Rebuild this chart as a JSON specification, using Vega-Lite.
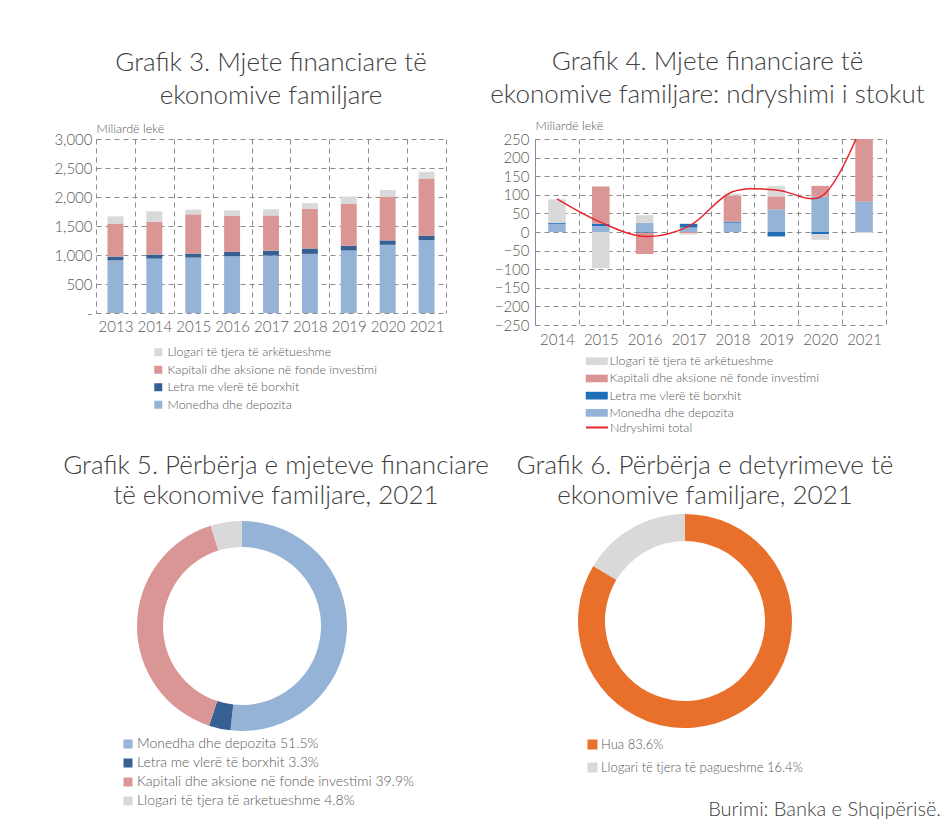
{
  "$schema": "https://vega.github.io/schema/vega-lite/v6.json",
  "autosize": {"type": "pad"},
  "padding": {"left": 53, "top": 49, "right": 0, "bottom": 0},
  "background": "white",
  "bounds": "flush",
  "spacing": 382,
  "resolve": {"scale": {"color": "independent", "stroke": "independent", "x": "independent", "y": "independent"}, "legend": {"color": "independent", "stroke": "independent"}},
  "title": {"text": "Burimi: Banka e Shqipërisë.", "orient": "bottom", "anchor": "end", "frame": "group", "offset": -8, "dx": 845, "fontSize": 20, "font": "Lato", "fontWeight": 300, "color": "#404040"},
  "config": {
    "font": "Lato",
    "view": {"stroke": null},
    "axis": {"labelFont": "Lato", "labelFontWeight": 300, "labelColor": "#595959", "titleFont": "Lato", "titleFontWeight": 300, "titleColor": "#595959", "gridColor": "#8c8c8c", "gridDash": [5, 4], "gridWidth": 1, "ticks": false, "domain": false, "labelOverlap": false},
    "legend": {"labelFont": "Lato", "labelFontWeight": 300, "labelColor": "#595959", "labelFontSize": 12.5, "padding": 0, "labelLimit": 500},
    "title": {"font": "Lato", "fontWeight": 300, "color": "#404040"}
  },
  "vconcat": [
    {
      "bounds": "flush",
      "spacing": 89,
      "resolve": {"scale": {"color": "independent", "stroke": "independent", "x": "independent", "y": "independent"}, "legend": {"color": "independent", "stroke": "independent"}},
      "hconcat": [
        {
          "width": 350,
          "height": 174,
          "title": {"text": ["Grafik 3. Mjete financiare të", "ekonomive familjare"], "frame": "group", "anchor": "middle", "offset": 13, "fontSize": 26, "lineHeight": 33},
          "data": {"values": [
            {"viti": "2013", "seria": "Monedha dhe depozita", "vlera": 909, "rend": 1},
            {"viti": "2013", "seria": "Letra me vlerë të borxhit", "vlera": 64, "rend": 2},
            {"viti": "2013", "seria": "Kapitali dhe aksione në fonde investimi", "vlera": 570, "rend": 3},
            {"viti": "2013", "seria": "Llogari të tjera të arkëtueshme", "vlera": 123, "rend": 4},
            {"viti": "2014", "seria": "Monedha dhe depozita", "vlera": 938, "rend": 1},
            {"viti": "2014", "seria": "Letra me vlerë të borxhit", "vlera": 70, "rend": 2},
            {"viti": "2014", "seria": "Kapitali dhe aksione në fonde investimi", "vlera": 565, "rend": 3},
            {"viti": "2014", "seria": "Llogari të tjera të arkëtueshme", "vlera": 180, "rend": 4},
            {"viti": "2015", "seria": "Monedha dhe depozita", "vlera": 955, "rend": 1},
            {"viti": "2015", "seria": "Letra me vlerë të borxhit", "vlera": 70, "rend": 2},
            {"viti": "2015", "seria": "Kapitali dhe aksione në fonde investimi", "vlera": 676, "rend": 3},
            {"viti": "2015", "seria": "Llogari të tjera të arkëtueshme", "vlera": 81, "rend": 4},
            {"viti": "2016", "seria": "Monedha dhe depozita", "vlera": 978, "rend": 1},
            {"viti": "2016", "seria": "Letra me vlerë të borxhit", "vlera": 76, "rend": 2},
            {"viti": "2016", "seria": "Kapitali dhe aksione në fonde investimi", "vlera": 618, "rend": 3},
            {"viti": "2016", "seria": "Llogari të tjera të arkëtueshme", "vlera": 99, "rend": 4},
            {"viti": "2017", "seria": "Monedha dhe depozita", "vlera": 990, "rend": 1},
            {"viti": "2017", "seria": "Letra me vlerë të borxhit", "vlera": 82, "rend": 2},
            {"viti": "2017", "seria": "Kapitali dhe aksione në fonde investimi", "vlera": 611, "rend": 3},
            {"viti": "2017", "seria": "Llogari të tjera të arkëtueshme", "vlera": 105, "rend": 4},
            {"viti": "2018", "seria": "Monedha dhe depozita", "vlera": 1019, "rend": 1},
            {"viti": "2018", "seria": "Letra me vlerë të borxhit", "vlera": 93, "rend": 2},
            {"viti": "2018", "seria": "Kapitali dhe aksione në fonde investimi", "vlera": 682, "rend": 3},
            {"viti": "2018", "seria": "Llogari të tjera të arkëtueshme", "vlera": 99, "rend": 4},
            {"viti": "2019", "seria": "Monedha dhe depozita", "vlera": 1077, "rend": 1},
            {"viti": "2019", "seria": "Letra me vlerë të borxhit", "vlera": 82, "rend": 2},
            {"viti": "2019", "seria": "Kapitali dhe aksione në fonde investimi", "vlera": 722, "rend": 3},
            {"viti": "2019", "seria": "Llogari të tjera të arkëtueshme", "vlera": 128, "rend": 4},
            {"viti": "2020", "seria": "Monedha dhe depozita", "vlera": 1176, "rend": 1},
            {"viti": "2020", "seria": "Letra me vlerë të borxhit", "vlera": 76, "rend": 2},
            {"viti": "2020", "seria": "Kapitali dhe aksione në fonde investimi", "vlera": 748, "rend": 3},
            {"viti": "2020", "seria": "Llogari të tjera të arkëtueshme", "vlera": 120, "rend": 4},
            {"viti": "2021", "seria": "Monedha dhe depozita", "vlera": 1258, "rend": 1},
            {"viti": "2021", "seria": "Letra me vlerë të borxhit", "vlera": 76, "rend": 2},
            {"viti": "2021", "seria": "Kapitali dhe aksione në fonde investimi", "vlera": 984, "rend": 3},
            {"viti": "2021", "seria": "Llogari të tjera të arkëtueshme", "vlera": 116, "rend": 4}
          ]},
          "mark": {"type": "bar", "width": {"band": 0.41}},
          "encoding": {
            "x": {"field": "viti", "type": "ordinal", "scale": {"paddingInner": 0, "paddingOuter": 0},
                  "axis": {"title": null, "labelAngle": 0, "grid": true, "tickBand": "extent", "labelFontSize": 15, "labelPadding": 6}},
            "y": {"field": "vlera", "type": "quantitative", "stack": "zero", "scale": {"domain": [0, 3000]},
                  "axis": {"values": [0, 500, 1000, 1500, 2000, 2500, 3000], "tickCount": 20, "grid": true, "labelFontSize": 15, "labelPadding": 4, "labelOverlap": false,
                           "labelExpr": "datum.value == 0 ? '-' : format(datum.value, ',')",
                           "title": "Miliardë lekë", "titleAngle": 0, "titleAlign": "left", "titleBaseline": "bottom", "titleX": 0, "titleY": -4, "titleFontSize": 12.5}},
            "color": {"field": "seria", "type": "nominal",
                      "scale": {"domain": ["Llogari të tjera të arkëtueshme", "Kapitali dhe aksione në fonde investimi", "Letra me vlerë të borxhit", "Monedha dhe depozita"],
                                "range": ["#d9d9d9", "#da9694", "#366092", "#95b3d7"]},
                      "legend": {"title": null, "orient": "none", "legendX": 56, "legendY": 207, "symbolType": "square", "symbolSize": 64, "symbolStrokeWidth": 0, "labelOffset": 3, "rowPadding": 4.5}},
            "order": {"field": "rend", "type": "quantitative"}
          }
        },
        {
          "width": 351,
          "height": 186,
          "title": {"text": ["Grafik 4. Mjete financiare të", "ekonomive familjare: ndryshimi i stokut"], "frame": "group", "anchor": "middle", "offset": 11, "dx": -3, "fontSize": 26, "lineHeight": 33},
          "resolve": {"scale": {"color": "independent", "stroke": "independent"}, "legend": {"color": "independent", "stroke": "independent"}},
          "layer": [
            {
              "data": {"values": [
                {"viti": "2014", "seria": "Monedha dhe depozita", "vlera": 22, "rend": 1},
                {"viti": "2014", "seria": "Letra me vlerë të borxhit", "vlera": 3, "rend": 2},
                {"viti": "2014", "seria": "Kapitali dhe aksione në fonde investimi", "vlera": 0, "rend": 3},
                {"viti": "2014", "seria": "Llogari të tjera të arkëtueshme", "vlera": 63, "rend": 4},
                {"viti": "2015", "seria": "Monedha dhe depozita", "vlera": 16, "rend": 1},
                {"viti": "2015", "seria": "Letra me vlerë të borxhit", "vlera": 6, "rend": 2},
                {"viti": "2015", "seria": "Kapitali dhe aksione në fonde investimi", "vlera": 100, "rend": 3},
                {"viti": "2015", "seria": "Llogari të tjera të arkëtueshme", "vlera": -97, "rend": 4},
                {"viti": "2016", "seria": "Monedha dhe depozita", "vlera": 25, "rend": 1},
                {"viti": "2016", "seria": "Letra me vlerë të borxhit", "vlera": -2, "rend": 2},
                {"viti": "2016", "seria": "Kapitali dhe aksione në fonde investimi", "vlera": -57, "rend": 3},
                {"viti": "2016", "seria": "Llogari të tjera të arkëtueshme", "vlera": 20, "rend": 4},
                {"viti": "2017", "seria": "Monedha dhe depozita", "vlera": 12, "rend": 1},
                {"viti": "2017", "seria": "Letra me vlerë të borxhit", "vlera": 10, "rend": 2},
                {"viti": "2017", "seria": "Kapitali dhe aksione në fonde investimi", "vlera": -3, "rend": 3},
                {"viti": "2017", "seria": "Llogari të tjera të arkëtueshme", "vlera": -4, "rend": 4},
                {"viti": "2018", "seria": "Monedha dhe depozita", "vlera": 25, "rend": 1},
                {"viti": "2018", "seria": "Letra me vlerë të borxhit", "vlera": 3, "rend": 2},
                {"viti": "2018", "seria": "Kapitali dhe aksione në fonde investimi", "vlera": 70, "rend": 3},
                {"viti": "2018", "seria": "Llogari të tjera të arkëtueshme", "vlera": 5, "rend": 4},
                {"viti": "2019", "seria": "Monedha dhe depozita", "vlera": 61, "rend": 1},
                {"viti": "2019", "seria": "Letra me vlerë të borxhit", "vlera": -12, "rend": 2},
                {"viti": "2019", "seria": "Kapitali dhe aksione në fonde investimi", "vlera": 35, "rend": 3},
                {"viti": "2019", "seria": "Llogari të tjera të arkëtueshme", "vlera": 27, "rend": 4},
                {"viti": "2020", "seria": "Monedha dhe depozita", "vlera": 95, "rend": 1},
                {"viti": "2020", "seria": "Letra me vlerë të borxhit", "vlera": -6, "rend": 2},
                {"viti": "2020", "seria": "Kapitali dhe aksione në fonde investimi", "vlera": 29, "rend": 3},
                {"viti": "2020", "seria": "Llogari të tjera të arkëtueshme", "vlera": -15, "rend": 4},
                {"viti": "2021", "seria": "Monedha dhe depozita", "vlera": 80, "rend": 1},
                {"viti": "2021", "seria": "Letra me vlerë të borxhit", "vlera": 1, "rend": 2},
                {"viti": "2021", "seria": "Kapitali dhe aksione në fonde investimi", "vlera": 226, "rend": 3},
                {"viti": "2021", "seria": "Llogari të tjera të arkëtueshme", "vlera": -3, "rend": 4}
              ]},
              "mark": {"type": "bar", "width": {"band": 0.4}, "clip": true},
              "encoding": {
                "x": {"field": "viti", "type": "ordinal", "scale": {"paddingInner": 0, "paddingOuter": 0},
                      "axis": {"title": null, "labelAngle": 0, "grid": true, "tickBand": "extent", "labelFontSize": 15, "labelPadding": 7}},
                "y": {"field": "vlera", "type": "quantitative", "stack": "zero", "scale": {"domain": [-250, 250]},
                      "axis": {"values": [-250, -200, -150, -100, -50, 0, 50, 100, 150, 200, 250], "tickCount": 20, "grid": true, "labelFontSize": 15, "labelPadding": 6, "labelOverlap": false,
                               "domain": true, "domainColor": "#8c8c8c",
                               "title": "Miliardë lekë", "titleAngle": 0, "titleAlign": "left", "titleBaseline": "bottom", "titleX": 0, "titleY": -7, "titleFontSize": 12.5}},
                "color": {"field": "seria", "type": "nominal",
                          "scale": {"domain": ["Llogari të tjera të arkëtueshme", "Kapitali dhe aksione në fonde investimi", "Letra me vlerë të borxhit", "Monedha dhe depozita"],
                                    "range": ["#d9d9d9", "#da9694", "#1f6fb8", "#95b3d7"]},
                          "legend": {"title": null, "orient": "none", "legendX": 55.5, "legendY": 216, "symbolType": "M-2,-0.7H2V0.7H-2Z", "symbolSize": 121, "symbolStrokeWidth": 0, "labelOffset": 6.5, "rowPadding": 4.2}},
                "order": {"field": "rend", "type": "quantitative"}
              }
            },
            {
              "data": {"values": [
                {"viti": "2014", "emri": "Ndryshimi total", "total": 89},
                {"viti": "2015", "emri": "Ndryshimi total", "total": 26},
                {"viti": "2016", "emri": "Ndryshimi total", "total": -12},
                {"viti": "2017", "emri": "Ndryshimi total", "total": 15},
                {"viti": "2018", "emri": "Ndryshimi total", "total": 108},
                {"viti": "2019", "emri": "Ndryshimi total", "total": 113},
                {"viti": "2020", "emri": "Ndryshimi total", "total": 94},
                {"viti": "2021", "emri": "Ndryshimi total", "total": 305}
              ]},
              "mark": {"type": "line", "interpolate": "catmull-rom", "clip": true, "strokeWidth": 1.5},
              "encoding": {
                "x": {"field": "viti", "type": "ordinal",
                      "axis": {"title": null, "labelAngle": 0, "grid": true, "tickBand": "extent", "labelFontSize": 15, "labelPadding": 7}},
                "y": {"field": "total", "type": "quantitative",
                      "axis": {"values": [-250, -200, -150, -100, -50, 0, 50, 100, 150, 200, 250], "tickCount": 20, "grid": true, "labelFontSize": 15, "labelPadding": 6, "labelOverlap": false,
                               "domain": true, "domainColor": "#8c8c8c",
                               "title": "Miliardë lekë", "titleAngle": 0, "titleAlign": "left", "titleBaseline": "bottom", "titleX": 0, "titleY": -7, "titleFontSize": 12.5}},
                "stroke": {"field": "emri", "type": "nominal", "scale": {"range": ["#e8232a"]},
                           "legend": {"title": null, "orient": "none", "legendX": 55.5, "legendY": 282, "symbolType": "M-2,0H2", "symbolSize": 121, "symbolStrokeWidth": 2, "labelOffset": 6.5}}
              }
            }
          ]
        }
      ]
    },
    {
      "bounds": "flush",
      "spacing": 197,
      "resolve": {"scale": {"color": "independent", "theta": "independent"}, "legend": {"color": "independent"}},
      "hconcat": [
        {
          "width": 292,
          "height": 210,
          "title": {"text": ["Grafik 5. Përbërja e mjeteve financiare", "të ekonomive familjare, 2021"], "frame": "group", "anchor": "middle", "offset": 12, "dx": 34, "fontSize": 26, "lineHeight": 30},
          "data": {"values": [
            {"seria": "Monedha dhe depozita 51.5%", "pct": 51.5, "rend": 1},
            {"seria": "Letra me vlerë të borxhit  3.3%", "pct": 3.3, "rend": 2},
            {"seria": "Kapitali dhe aksione në fonde investimi  39.9%", "pct": 39.9, "rend": 3},
            {"seria": "Llogari të tjera të arketueshme 4.8%", "pct": 4.8, "rend": 4}
          ]},
          "mark": {"type": "arc", "radius": 105, "innerRadius": 79},
          "encoding": {
            "theta": {"field": "pct", "type": "quantitative", "stack": true},
            "order": {"field": "rend", "type": "quantitative"},
            "color": {"field": "seria", "type": "nominal",
                      "scale": {"domain": ["Monedha dhe depozita 51.5%", "Letra me vlerë të borxhit  3.3%", "Kapitali dhe aksione në fonde investimi  39.9%", "Llogari të tjera të arketueshme 4.8%"],
                                "range": ["#95b3d7", "#366092", "#da9694", "#d9d9d9"]},
                      "legend": {"title": null, "orient": "none", "legendX": 25, "legendY": 216, "symbolType": "square", "symbolSize": 81, "symbolStrokeWidth": 0, "labelOffset": 2, "labelFontSize": 14, "rowPadding": 5}}
          }
        },
        {
          "width": 200,
          "height": 200,
          "title": {"text": ["Grafik 6. Përbërja e detyrimeve të", "ekonomive familjare, 2021"], "frame": "group", "anchor": "middle", "offset": 5, "dx": 20, "fontSize": 26, "lineHeight": 30},
          "data": {"values": [
            {"seria": "Hua 83.6%", "pct": 83.6, "rend": 1},
            {"seria": "Llogari të tjera të pagueshme 16.4%", "pct": 16.4, "rend": 2}
          ]},
          "mark": {"type": "arc", "radius": 107, "innerRadius": 80},
          "encoding": {
            "theta": {"field": "pct", "type": "quantitative", "stack": true},
            "order": {"field": "rend", "type": "quantitative"},
            "color": {"field": "seria", "type": "nominal",
                      "scale": {"domain": ["Hua 83.6%", "Llogari të tjera të pagueshme 16.4%"], "range": ["#e8702a", "#d9d9d9"]},
                      "legend": {"title": null, "orient": "none", "legendX": 1, "legendY": 217, "symbolType": "square", "symbolSize": 100, "symbolStrokeWidth": 0, "labelOffset": 2, "labelFontSize": 13, "rowPadding": 9}}
          }
        }
      ]
    }
  ]
}
